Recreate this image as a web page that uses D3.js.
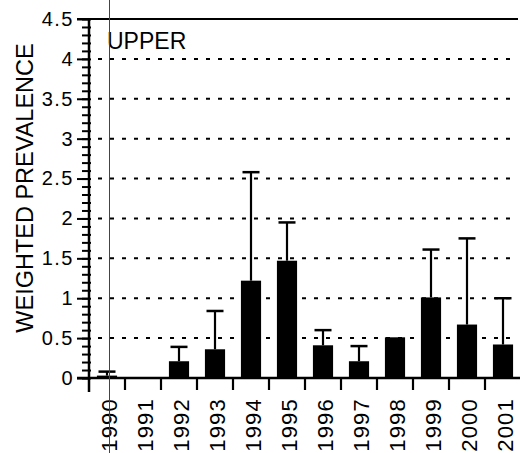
<!DOCTYPE html>
<html>
<head>
<meta charset="utf-8">
<script src="https://cdn.jsdelivr.net/npm/d3@7"></script>
<style>
  html, body { margin: 0; padding: 0; background: #fff; }
  svg { display: block; font-family: "Liberation Sans", Arial, Helvetica, sans-serif; }
</style>
</head>
<body>
<div class="js-chart"></div>
<script>
let years = ['1990', '1991', '1992', '1993', '1994', '1995', '1996', '1997', '1998', '1999', '2000', '2001'];
let prevalence = [0.03, 0, 0.21, 0.36, 1.22, 1.47, 0.41, 0.21, 0.51, 1.01, 0.67, 0.42];
let upperError = [0.08, null, 0.39, 0.84, 2.58, 1.95, 0.60, 0.40, null, 1.61, 1.75, 1.00];
let yTicks = [0, 0.5, 1, 1.5, 2, 2.5, 3, 3.5, 4, 4.5];
let gridValues = [0.5, 1, 1.5, 2, 2.5, 3, 3.5, 4];
let panelLabel = 'UPPER';
let yTitle = 'WEIGHTED PREVALENCE';

let w = 520;
let h = 453;

let plotLeft = 89, plotRight = 521, plotTop = 19, plotBottom = 378;

let svg = d3.select('.js-chart').append('svg').attr('width', w).attr('height', h);

let x = d3.scaleBand().domain(years).range([plotLeft, plotRight]).padding(0);
let y = d3.scaleLinear().domain([0, 4.5]).range([plotBottom, plotTop]);

// dotted grid lines
svg.append('g')
   .selectAll('line')
   .data(gridValues)
   .join('line')
   .attr('x1', plotLeft + 9)
   .attr('x2', 515)
   .attr('y1', d => y(d))
   .attr('y2', d => y(d))
   .style('stroke', '#000')
   .style('stroke-width', 2)
   .style('stroke-dasharray', '4,8');

// top frame line
svg.append('line')
   .attr('x1', plotLeft - 12)
   .attr('x2', 518)
   .attr('y1', y(4.5))
   .attr('y2', y(4.5))
   .style('stroke', '#000')
   .style('stroke-width', 2);

// bars
let bw = x.bandwidth();
svg.append('g')
   .selectAll('rect')
   .data(years)
   .join('rect')
   .attr('x', d => x(d) + bw * 0.22)
   .attr('width', bw * 0.56)
   .attr('y', (d, i) => y(prevalence[i]))
   .attr('height', (d, i) => y(0) - y(prevalence[i]))
   .style('fill', '#000');

// error bars (upper only)
let errYears = years.filter((d, i) => upperError[i] !== null);
let errGroup = svg.append('g');
errGroup.selectAll('line.stem')
        .data(errYears)
        .join('line')
        .attr('class', 'stem')
        .attr('x1', d => x(d) + bw / 2)
        .attr('x2', d => x(d) + bw / 2)
        .attr('y1', d => y(prevalence[years.indexOf(d)]))
        .attr('y2', d => y(upperError[years.indexOf(d)]))
        .style('stroke', '#000')
        .style('stroke-width', 2.2);
errGroup.selectAll('line.cap')
        .data(errYears)
        .join('line')
        .attr('class', 'cap')
        .attr('x1', d => x(d) + bw / 2 - 8.5)
        .attr('x2', d => x(d) + bw / 2 + 8.5)
        .attr('y1', d => y(upperError[years.indexOf(d)]))
        .attr('y2', d => y(upperError[years.indexOf(d)]))
        .style('stroke', '#000')
        .style('stroke-width', 2.5);

// y axis: major ticks with labels
let yAxis = svg.append('g')
               .attr('transform', `translate(${plotLeft},0)`)
               .call(d3.axisLeft(y).tickValues(yTicks).tickSize(12).tickPadding(3).tickFormat(d => String(d)));
yAxis.select('.domain').remove();
yAxis.selectAll('.tick line').style('stroke', '#000').style('stroke-width', 2);
yAxis.selectAll('.tick text')
     .style('font-size', '20px')
     .style('letter-spacing', '1.5px')
     .style('fill', '#000');

// y axis: minor ticks every 0.1
let minor = svg.append('g')
               .attr('transform', `translate(${plotLeft + 2},0)`)
               .call(d3.axisLeft(y).tickValues(d3.range(0, 46).map(i => i / 10)).tickSize(9).tickFormat(''));
minor.select('.domain').remove();
minor.selectAll('.tick line').style('stroke', '#000').style('stroke-width', 2);

// y axis line
svg.append('line')
   .attr('x1', plotLeft)
   .attr('x2', plotLeft)
   .attr('y1', y(4.5) - 1)
   .attr('y2', plotBottom + 14)
   .style('stroke', '#000')
   .style('stroke-width', 2.5);

// x axis line and ticks at band edges
svg.append('line')
   .attr('x1', plotLeft - 12)
   .attr('x2', plotRight)
   .attr('y1', y(0))
   .attr('y2', y(0))
   .style('stroke', '#000')
   .style('stroke-width', 2.5);
svg.append('g')
   .selectAll('line')
   .data(years.slice(1))
   .join('line')
   .attr('x1', d => x(d))
   .attr('x2', d => x(d))
   .attr('y1', y(0))
   .attr('y2', y(0) + 12)
   .style('stroke', '#000')
   .style('stroke-width', 2.2);

// x labels, rotated
svg.append('g')
   .selectAll('text')
   .data(years)
   .join('text')
   .attr('transform', d => `translate(${x(d) + bw / 2 + 10},${plotBottom + 20}) rotate(-90)`)
   .attr('text-anchor', 'end')
   .style('font-size', '22px')
   .style('letter-spacing', '1.2px')
   .style('fill', '#000')
   .text(d => d);

// y title
svg.append('text')
   .attr('transform', `translate(33,${188}) rotate(-90)`)
   .attr('text-anchor', 'middle')
   .style('font-size', '23.5px')
   .style('fill', '#000')
   .text(yTitle);

// panel label
svg.append('text')
   .attr('x', 107)
   .attr('y', 49)
   .style('font-size', '23px')
   .style('fill', '#000')
   .text(panelLabel);

// thin scan line crossing the figure
svg.append('line')
   .attr('x1', 109.5)
   .attr('x2', 109.5)
   .attr('y1', 0)
   .attr('y2', h)
   .style('stroke', '#444')
   .style('stroke-width', 1);
</script>
</body>
</html>
